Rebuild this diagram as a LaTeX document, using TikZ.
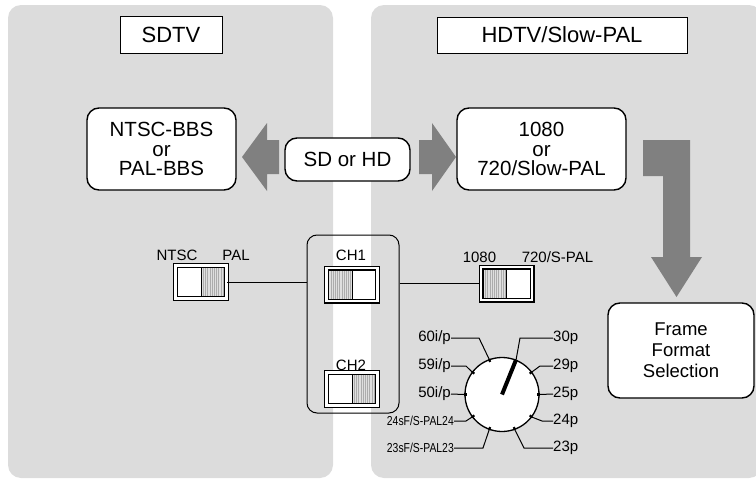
\documentclass[tikz,border=0pt]{standalone}
\usepackage{fontspec}
\setmainfont{Liberation Sans}
\begin{document}
\begin{tikzpicture}[x=1pt,y=-1pt,
  panel/.style={fill=panelgray, rounded corners=13pt},
  title/.style={draw, line width=0.9pt, fill=white, inner sep=0pt, font=\fontsize{22}{24}\selectfont},
  blockbox/.style={draw, line width=1.4pt, fill=white, rounded corners=12pt, inner sep=0pt, align=center, font=\fontsize{20.5}{19.5}\selectfont},
  lbl/.style={inner sep=0pt, font=\fontsize{15}{16}\selectfont},
  small/.style={inner sep=0pt, font=\fontsize{13}{14}\selectfont},
  wire/.style={line width=1pt},
  tick/.style={line width=2.2pt},
  fatarrow/.style={fill=arrowgray},
  sw/.style={draw, line width=1.3pt, double=white, double distance=2.4pt, fill=white,
    minimum width=51pt, minimum height=33pt, inner sep=0pt},
  swleft/.style={sw, path picture={
    \fill[gray!25] (path picture bounding box.north west) rectangle (path picture bounding box.south);
    \foreach \i in {1,...,11}
      \draw[gray!65, line width=0.5pt] ([xshift={\i*2.2pt}]path picture bounding box.north west) -- ([xshift={\i*2.2pt}]path picture bounding box.south west);
    \draw[line width=1pt] (path picture bounding box.north) -- (path picture bounding box.south);}},
  swright/.style={sw, path picture={
    \fill[gray!25] (path picture bounding box.north) rectangle (path picture bounding box.south east);
    \foreach \i in {1,...,11}
      \draw[gray!65, line width=0.5pt] ([xshift={\i*2.2pt}]path picture bounding box.north) -- ([xshift={\i*2.2pt}]path picture bounding box.south);
    \draw[line width=1pt] (path picture bounding box.north) -- (path picture bounding box.south);}}
]
\definecolor{panelgray}{HTML}{DCDCDC}
\definecolor{arrowgray}{HTML}{808080}
\useasboundingbox (0,0) rectangle (756,479);
\clip (0,0) rectangle (756,479);

% two background panels
\fill[panel] (8,5) rectangle (333,478);
\fill[panel] (371,5) rectangle (762,478);

% panel titles
\node[title, minimum width=102pt, minimum height=37pt] (sdtv) at (171,34.5) {SDTV};
\node[title, minimum width=250pt, minimum height=36pt] (hdtv) at (562,35) {HDTV/Slow-PAL};

% mode boxes
\node[blockbox, minimum width=149pt, minimum height=82pt] (sdbox) at (161.5,149) {NTSC-BBS\\or\\PAL-BBS};
\node[blockbox, minimum width=125pt, minimum height=43pt] (sel) at (347.5,159.5) {SD or HD};
\node[blockbox, minimum width=169pt, minimum height=82pt] (hdbox) at (541.5,149) {1080\\or\\720/Slow-PAL};
\node[blockbox, minimum width=146pt, minimum height=95pt, font=\fontsize{18.5}{21}\selectfont] (frame) at (681,350.5) {Frame\\Format\\Selection};

% block arrows
\fill[fatarrow] (279,140) -- (267,140) -- (267,123) -- (242,157) -- (267,191) -- (267,174) -- (279,174) -- cycle;
\fill[fatarrow] (419,140) -- (432,140) -- (432,123) -- (456,157) -- (432,191) -- (432,174) -- (419,174) -- cycle;
\fill[fatarrow] (643,140) -- (690,140) -- (690,257) -- (702,257) -- (676.5,297) -- (651,257) -- (663,257) -- (663,176) -- (643,176) -- cycle;

% channel switches
\node[draw, line width=1pt, rounded corners=10pt, minimum width=92pt, minimum height=178pt, inner sep=0pt] (chbox) at (353,324) {};
\node[swleft] (ch1) at (352,284.5) {};
\node[swright] (ch2) at (352,389) {};
\node[lbl] (ch1l) at (351,255.5) {CH1};
\node[lbl] (ch2l) at (351,365) {CH2};

% standard selector
\node[swright] (stdsw) at (201,282) {};
\node[lbl] (ntsc) at (177,255.5) {NTSC};
\node[lbl] (pal) at (236,255.5) {PAL};
\draw[wire] (stdsw.east) -- (stdsw.east -| chbox.west);

% HD format selector
\node[swleft] (hdsw) at (506.5,283.5) {};
\node[lbl] (l1080) at (479.5,257.5) {1080};
\node[lbl] (l720) at (557.5,257.5) {720/S-PAL};
\draw[wire] (chbox.east |- hdsw.west) -- (hdsw.west);

% frame rate dial
\node[draw, circle, line width=1.3pt, fill=white, minimum size=74pt, inner sep=0pt] (dial) at (502,394.5) {};
\foreach \a in {110,143,180,217,250,68,37,0,-37,-70}
  \draw[tick] (dial.\a) -- ++(\a+180:3pt);
\draw[line width=4pt] (dial.center) -- (dial.68);

\node[lbl, anchor=east] (f60) at (451,338) {60i/p};
\node[lbl, anchor=east] (f59) at (451,366) {59i/p};
\node[lbl, anchor=east] (f50) at (451,394) {50i/p};
\node[small, anchor=east] (f24sf) at (454,421) {\scalebox{0.8}[1]{24sF/S-PAL24}};
\node[small, anchor=east] (f23sf) at (454,448) {\scalebox{0.8}[1]{23sF/S-PAL23}};
\node[lbl, anchor=west] (f30) at (553,338) {30p};
\node[lbl, anchor=west] (f29) at (553,366) {29p};
\node[lbl, anchor=west] (f25) at (553,394) {25p};
\node[lbl, anchor=west] (f24) at (553,421) {24p};
\node[lbl, anchor=west] (f23) at (553,448) {23p};

\draw[wire] (f60.east) -- (479,338) -- (dial.110);
\draw[wire] (f59.east) -- (466,366) -- (dial.143);
\draw[wire] (f50.east) -- (dial.180);
\draw[wire] (f24sf.east) -- (466,421) -- (dial.217);
\draw[wire] (f23sf.east) -- (483,448) -- (dial.250);
\draw[wire] (f30.west) -- (520,338) -- (dial.68);
\draw[wire] (f29.west) -- (540,366) -- (dial.37);
\draw[wire] (f25.west) -- (dial.0);
\draw[wire] (f24.west) -- (542,421) -- (dial.-37);
\draw[wire] (f23.west) -- (524,448) -- (dial.-70);
\end{tikzpicture}
\end{document}
